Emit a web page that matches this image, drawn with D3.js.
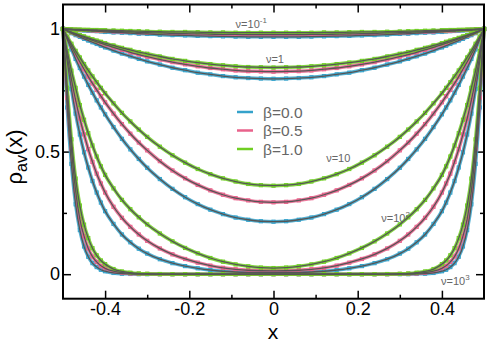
<!DOCTYPE html>
<html>
<head>
<meta charset="utf-8">
<script src="https://cdn.jsdelivr.net/npm/d3@7"></script>
<style>
  body { margin: 0; background: #fff; }
  svg { display: block; font-family: "Liberation Sans", Arial, sans-serif; }
</style>
</head>
<body>
<svg id="chart" width="490" height="343"></svg>
<script>
// half profile, from the left wall (x=-0.5) to the centre (x=0); the picture is symmetric
const xHalf = [-0.5, -0.49, -0.48, -0.47, -0.46, -0.45, -0.44, -0.43, -0.42, -0.41, -0.40,
    -0.38, -0.36, -0.34, -0.32, -0.30, -0.27, -0.24, -0.21, -0.18, -0.15, -0.12, -0.09, -0.06, -0.03, 0];

// nu = 0.1
const nu01_b0  = [1, .999, .997, .996, .995, .994, .993, .992, .991, .990, .988, .986, .985, .983, .981, .980, .977, .975, .974, .972, .971, .970, .969, .968, .968, .968];
const nu01_b05 = [1, .999, .998, .997, .996, .996, .995, .994, .993, .992, .992, .990, .989, .988, .986, .985, .984, .982, .981, .980, .979, .978, .978, .977, .977, .977];
const nu01_b1  = [1, .999, .999, .998, .998, .997, .997, .996, .996, .995, .995, .994, .993, .992, .991, .990, .989, .988, .988, .987, .986, .986, .985, .985, .985, .985];
// nu = 1
const nu1_b0  = [1, .992, .983, .975, .968, .960, .953, .946, .939, .932, .925, .912, .900, .889, .878, .868, .855, .842, .832, .822, .815, .808, .803, .800, .798, .797];
const nu1_b05 = [1, .993, .986, .979, .973, .966, .960, .954, .948, .942, .936, .925, .915, .905, .896, .887, .876, .865, .856, .848, .841, .836, .831, .828, .827, .826];
const nu1_b1  = [1, .994, .987, .981, .975, .970, .964, .958, .953, .948, .942, .933, .923, .915, .906, .899, .888, .878, .870, .863, .857, .852, .848, .845, .844, .843];
// nu = 10
const nu10_b0  = [1, .958, .917, .878, .841, .806, .772, .740, .709, .680, .652, .600, .552, .509, .470, .434, .388, .348, .314, .286, .263, .245, .231, .222, .216, .214];
const nu10_b05 = [1, .964, .930, .897, .866, .836, .806, .778, .752, .726, .701, .655, .612, .573, .537, .505, .461, .423, .391, .364, .342, .324, .310, .301, .295, .293];
const nu10_b1  = [1, .969, .940, .911, .884, .857, .831, .807, .783, .760, .738, .697, .658, .623, .590, .560, .520, .485, .455, .429, .408, .391, .378, .368, .363, .361];
// nu = 100
const nu100_b0  = [1, .87, .755, .655, .57, .497, .435, .38, .333, .292, .257, .205, .162, .13, .104, .084, .061, .045, .033, .024, .017, .012, .009, .0072, .0063, .006];
const nu100_b05 = [1, .89, .795, .71, .635, .57, .51, .458, .41, .37, .333, .275, .23, .193, .162, .136, .105, .081, .062, .047, .035, .026, .02, .016, .014, .0135];
const nu100_b1  = [1, .91, .83, .76, .69, .63, .575, .525, .48, .44, .405, .35, .303, .265, .232, .203, .166, .134, .107, .085, .066, .051, .04, .032, .027, .025];
// nu = 1000
const nu1000_b0  = [1, .68, .45, .285, .18, .113, .071, .045, .029, .018, .012, .005, .002, .001, 0, 0, 0, 0, 0, 0, 0, 0, 0, 0, 0, 0];
const nu1000_b05 = [1, .72, .51, .34, .225, .155, .105, .072, .05, .034, .024, .012, .006, .003, .0015, .001, 0, 0, 0, 0, 0, 0, 0, 0, 0, 0];
const nu1000_b1  = [1, .76, .55, .39, .28, .202, .147, .106, .077, .056, .041, .021, .011, .006, .003, .0017, .0006, 0, 0, 0, 0, 0, 0, 0, 0, 0];

const betaLabels = ["β=0.0", "β=0.5", "β=1.0"];
const betaColors = ["#35a2cb", "#e8628b", "#6fce22"];
const xTicks = [-0.4, -0.2, 0, 0.2, 0.4];
const xMinorTicks = [-0.3, -0.1, 0.1, 0.3];
const yTicks = [0, 0.5, 1];
const yMinorTicks = [0.25, 0.75];

const curves = [
    [nu01_b0, nu01_b05, nu01_b1],
    [nu1_b0, nu1_b05, nu1_b1],
    [nu10_b0, nu10_b05, nu10_b1],
    [nu100_b0, nu100_b05, nu100_b1],
    [nu1000_b0, nu1000_b05, nu1000_b1]
];

// labels of the nu groups: [base, exponent, x, y]
const nuLabels = [
    ["ν=10", "-1", -0.09, 1.005],
    ["ν=1", "", -0.018, 0.862],
    ["ν=10", "", 0.125, 0.456],
    ["ν=10", "2", 0.256, 0.214],
    ["ν=10", "3", 0.398, -0.044]
];

// mirror the half profile to get the whole interval
const xFull = xHalf.concat(xHalf.slice(0, -1).reverse().map(v => -v));
const mirror = half => half.concat(half.slice(0, -1).reverse());

const svg = d3.select("#chart");
const plotLeft = 63, plotRight = 484, plotTop = 4.5, plotBottom = 298.7;

const x = d3.scaleLinear().domain([-0.5, 0.5]).range([plotLeft, plotRight]);
const y = d3.scaleLinear().domain([-0.1, 1.1]).range([plotBottom, plotTop]);

const fmt = d => d === 0 ? "0" : (Number.isInteger(d) ? String(d) : d.toFixed(1));

// axes, ticks pointing inward
const axisStyle = g => {
    g.select(".domain").remove();
    g.selectAll(".tick line").attr("stroke", "#000").attr("stroke-width", 1.5);
    g.selectAll("text").attr("font-size", 18).attr("fill", "#000")
        .attr("font-family", '"Liberation Sans", Arial, sans-serif');
};

svg.append("g").attr("transform", `translate(0,${plotBottom})`)
    .call(d3.axisBottom(x).tickValues(xTicks).tickSizeInner(-8).tickSizeOuter(0).tickPadding(4).tickFormat(fmt))
    .call(axisStyle);
svg.append("g").attr("transform", `translate(0,${plotBottom})`)
    .call(d3.axisBottom(x).tickValues(xMinorTicks).tickSizeInner(-4).tickSizeOuter(0).tickFormat(""))
    .call(axisStyle);
svg.append("g").attr("transform", `translate(0,${plotTop})`)
    .call(d3.axisTop(x).tickValues(xTicks).tickSizeInner(-8).tickSizeOuter(0).tickFormat(""))
    .call(axisStyle);
svg.append("g").attr("transform", `translate(0,${plotTop})`)
    .call(d3.axisTop(x).tickValues(xMinorTicks).tickSizeInner(-4).tickSizeOuter(0).tickFormat(""))
    .call(axisStyle);
svg.append("g").attr("transform", `translate(${plotLeft},0)`)
    .call(d3.axisLeft(y).tickValues(yTicks).tickSizeInner(-8).tickSizeOuter(0).tickPadding(3).tickFormat(fmt))
    .call(axisStyle);
svg.append("g").attr("transform", `translate(${plotLeft},0)`)
    .call(d3.axisLeft(y).tickValues(yMinorTicks).tickSizeInner(-4).tickSizeOuter(0).tickFormat(""))
    .call(axisStyle);
svg.append("g").attr("transform", `translate(${plotRight},0)`)
    .call(d3.axisRight(y).tickValues(yTicks).tickSizeInner(-8).tickSizeOuter(0).tickFormat(""))
    .call(axisStyle);
svg.append("g").attr("transform", `translate(${plotRight},0)`)
    .call(d3.axisRight(y).tickValues(yMinorTicks).tickSizeInner(-4).tickSizeOuter(0).tickFormat(""))
    .call(axisStyle);

// curves: coloured band + open square markers, grey line on top
const line = d3.line().x(d => x(d[0])).y(d => y(d[1])).curve(d3.curveMonotoneX);
const plot = svg.append("g");
const greyLayer = svg.append("g");

curves.forEach(group => {
    group.forEach((half, b) => {
        const full = mirror(half);
        const pts = xFull.map((xv, i) => [xv, full[i]]);
        plot.append("path").datum(pts)
            .attr("d", line).attr("fill", "none")
            .attr("stroke", betaColors[b]).attr("stroke-width", 3.5).attr("opacity", 0.85);
        plot.selectAll(null).data(pts).enter().append("rect")
            .attr("x", d => x(d[0]) - 1.6).attr("y", d => y(d[1]) - 1.6)
            .attr("width", 3.2).attr("height", 3.2)
            .attr("fill", "none").attr("stroke", betaColors[b]).attr("stroke-width", 1);
        greyLayer.append("path").datum(pts)
            .attr("d", line).attr("fill", "none")
            .attr("stroke", "#555").attr("stroke-width", 1.3);
    });
});

// frame
svg.append("rect").attr("x", plotLeft).attr("y", plotTop)
    .attr("width", plotRight - plotLeft).attr("height", plotBottom - plotTop)
    .attr("fill", "none").attr("stroke", "#000").attr("stroke-width", 2);

// nu labels
nuLabels.forEach(([base, sup, lx, ly]) => {
    const t = svg.append("text").attr("x", x(lx)).attr("y", y(ly))
        .attr("font-size", 11).attr("fill", "#666").text(base);
    if (sup) t.append("tspan").attr("dy", -5).attr("font-size", 8).text(sup);
});

// legend
const legend = svg.append("g");
betaLabels.forEach((lab, i) => {
    const ly = 112 + i * 18.5;
    legend.append("line").attr("x1", 237).attr("x2", 253).attr("y1", ly).attr("y2", ly)
        .attr("stroke", betaColors[i]).attr("stroke-width", 2.5);
    legend.append("text").attr("x", 263).attr("y", ly).attr("dy", "0.36em")
        .attr("font-size", 15.5).attr("fill", "#666").text(lab);
});

// axis titles
svg.append("text").attr("x", 273).attr("y", 339).attr("text-anchor", "middle")
    .attr("font-size", 21).attr("fill", "#000").text("x");

const yt = svg.append("text").attr("transform", "translate(22,157) rotate(-90)")
    .attr("text-anchor", "middle").attr("font-size", 22).attr("fill", "#000");
yt.append("tspan").text("ρ");
yt.append("tspan").attr("dy", 5).attr("font-size", 16).text("av");
yt.append("tspan").attr("dy", -5).text("(x)");
</script>
</body>
</html>
